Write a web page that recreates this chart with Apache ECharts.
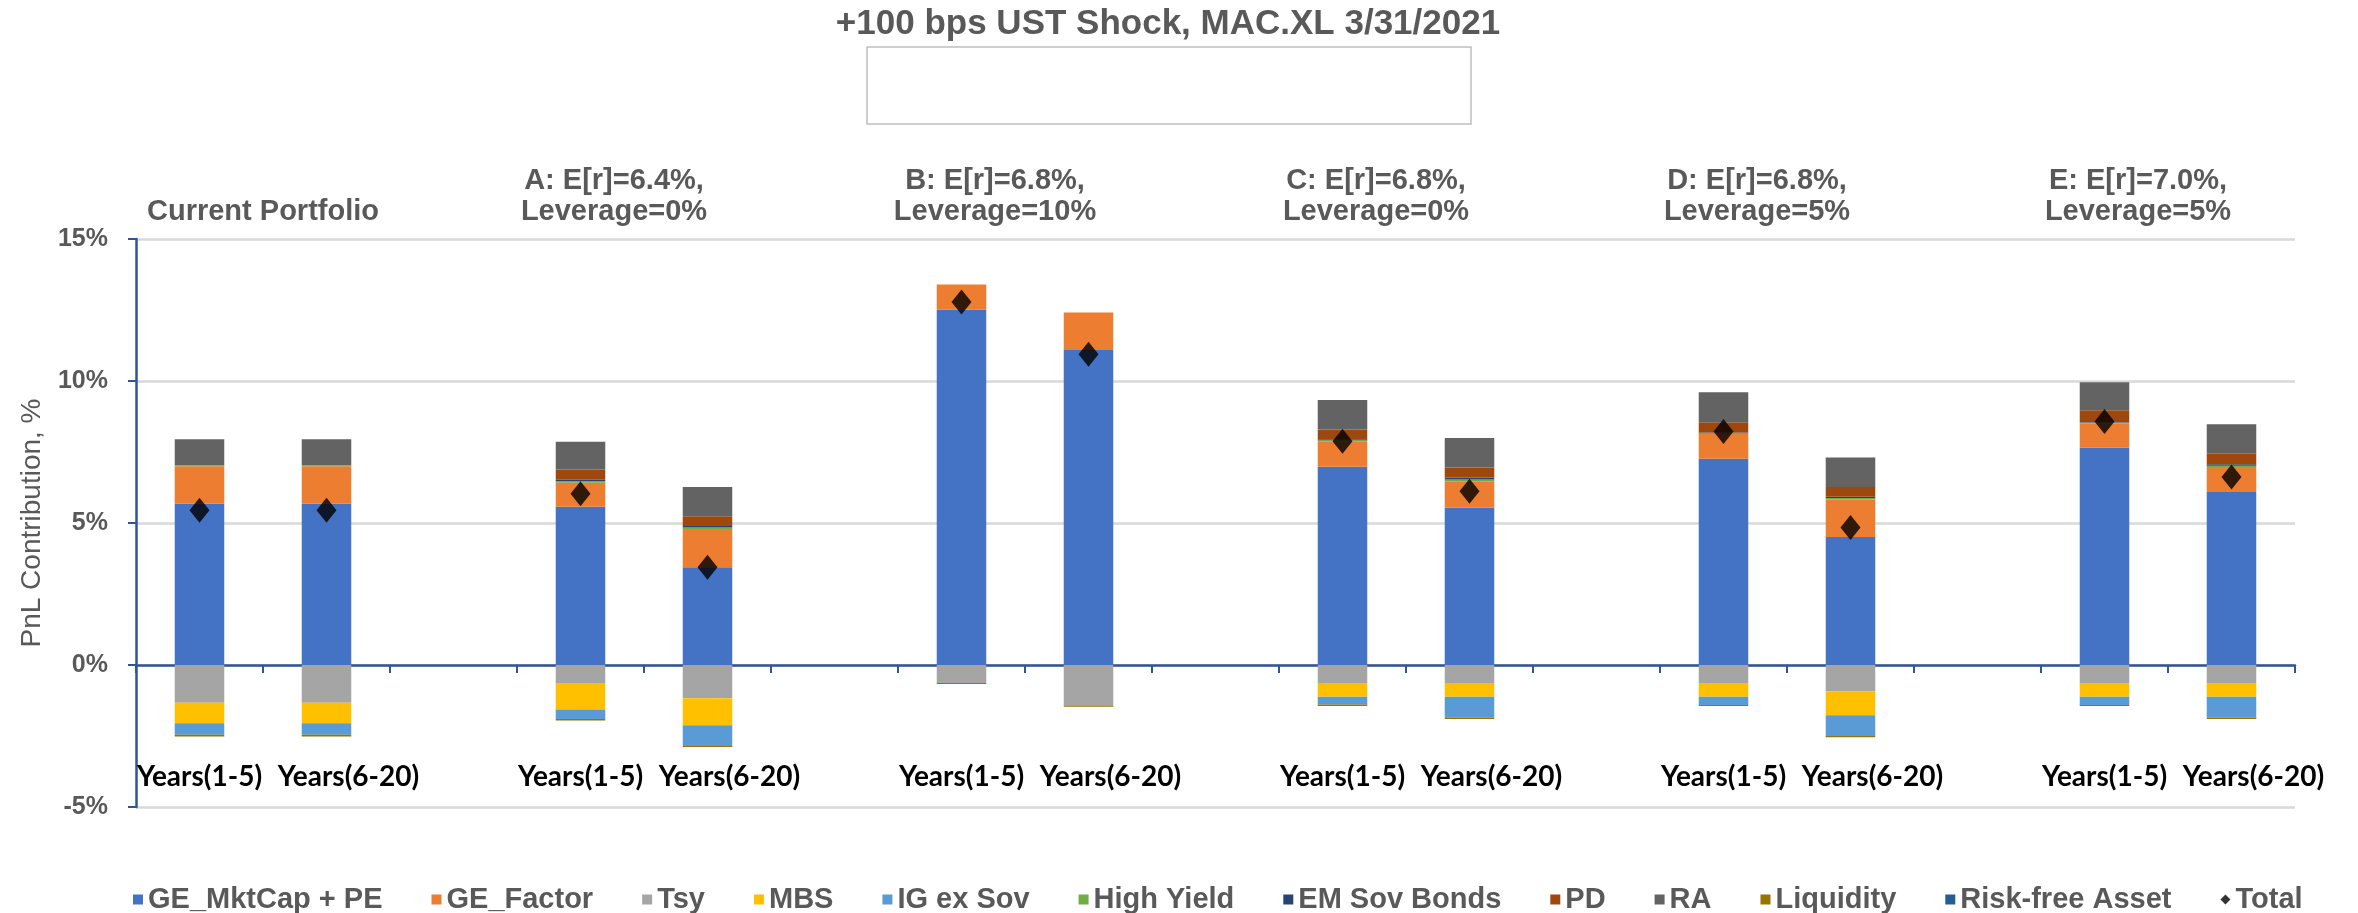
<!DOCTYPE html>
<html>
<head>
<meta charset="utf-8">
<script src="https://cdn.jsdelivr.net/npm/echarts@6/dist/echarts.min.js"></script>
<style>
html,body{margin:0;padding:0;background:#fff;}
#c{width:2358px;height:913px;}
</style>
</head>
<body>
<div id="c"></div>
<script>
// ---- data (values in %) ----
const categories = ['Years(1-5)','Years(6-20)','', 'Years(1-5)','Years(6-20)','', 'Years(1-5)','Years(6-20)','', 'Years(1-5)','Years(6-20)','', 'Years(1-5)','Years(6-20)','', 'Years(1-5)','Years(6-20)'];
const groupHeaders = ['Current Portfolio', 'A: E[r]=6.4%,\nLeverage=0%', 'B: E[r]=6.8%,\nLeverage=10%', 'C: E[r]=6.8%,\nLeverage=0%', 'D: E[r]=6.8%,\nLeverage=5%', 'E: E[r]=7.0%,\nLeverage=5%'];
const groupFirstCategory = [0, 3, 6, 9, 12, 15];

const geMktCap  = [5.68, 5.68, null, 5.57, 3.44, null, 12.52, 11.09, null, 6.98, 5.55, null, 7.26, 4.51, null, 7.66, 6.09];
const geFactor  = [1.32, 1.32, null, 0.85, 1.35, null, 0.88, 1.32, null, 0.90, 0.92, null, 0.87, 1.32, null, 0.85, 0.88];
const tsy       = [-1.33, -1.33, null, -0.63, -1.17, null, -0.63, -1.43, null, -0.63, -0.63, null, -0.63, -0.92, null, -0.63, -0.63];
const mbs       = [-0.72, -0.72, null, -0.94, -0.95, null, 0, 0, null, -0.49, -0.49, null, -0.49, -0.85, null, -0.49, -0.49];
const igExSov   = [-0.41, -0.41, null, -0.33, -0.73, null, 0, 0, null, -0.27, -0.73, null, -0.29, -0.73, null, -0.29, -0.73];
const highYield = [0.03, 0.03, null, 0.05, 0.05, null, 0, 0, null, 0.03, 0.06, null, 0.03, 0.05, null, 0.02, 0.05];
const emSov     = [0, 0, null, 0.05, 0.05, null, 0, 0, null, 0.04, 0.07, null, 0.03, 0.04, null, 0.02, 0.05];
const pd        = [0, 0, null, 0.36, 0.35, null, 0, 0, null, 0.34, 0.35, null, 0.36, 0.35, null, 0.42, 0.37];
const ra        = [0.92, 0.92, null, 0.98, 1.03, null, 0, 0, null, 1.04, 1.04, null, 1.05, 1.04, null, 0.99, 1.04];
const liquidity = [-0.06, -0.06, null, -0.05, -0.04, null, -0.04, -0.04, null, -0.05, -0.05, null, -0.03, -0.04, null, -0.03, -0.05];
const riskFree  = [0, 0, null, 0, 0, null, 0, 0, null, 0, 0, null, 0, 0, null, 0, 0];
const total     = [5.45, 5.45, null, 6.03, 3.44, null, 12.78, 10.94, null, 7.88, 6.12, null, 8.22, 4.84, null, 8.57, 6.62];
const yTicks = [-5, 0, 5, 10, 15];

const barSeriesDefs = [
  ['GE_MktCap + PE', geMktCap, '#4472C4'],
  ['GE_Factor', geFactor, '#ED7D31'],
  ['Tsy', tsy, '#A5A5A5'],
  ['MBS', mbs, '#FFC000'],
  ['IG ex Sov', igExSov, '#5B9BD5'],
  ['High Yield', highYield, '#70AD47'],
  ['EM Sov Bonds', emSov, '#264478'],
  ['PD', pd, '#9E480E'],
  ['RA', ra, '#636363'],
  ['Liquidity', liquidity, '#997300'],
  ['Risk-free Asset', riskFree, '#255E91']
];

const GRAY = '#595959';
const AXIS_BLUE = '#2F5597';
const FONT = '"Liberation Sans", Arial, sans-serif';
const LABEL_FONT = 'Lato, "Liberation Sans", sans-serif';

const series = barSeriesDefs.map(([name, data, color]) => ({
  name, type: 'bar', stack: 'pnl', data, barWidth: '39%',
  itemStyle: { color },
  emphasis: { disabled: true },
  animation: false
}));
series.push({
  name: 'Total', type: 'scatter', data: total, symbol: 'diamond', symbolSize: [20, 25],
  itemStyle: { color: '#000' }, z: 5, animation: false
});

const chart = echarts.init(document.getElementById('c'), null, { renderer: 'canvas' });
const option = {
  backgroundColor: '#fff',
  animation: false,
  title: {
    text: '+100 bps UST Shock, MAC.XL 3/31/2021',
    left: 1163, top: 2, textAlign: 'center',
    textStyle: { fontFamily: FONT, fontWeight: 'bold', fontSize: 35, color: GRAY }
  },
  grid: { left: 136, right: 63, top: 239, bottom: 106, containLabel: false, outerBoundsMode: 'none' },
  legend: {
    left: 128, top: 880,
    itemWidth: 10, itemHeight: 10, itemGap: 49,
    textStyle: { fontFamily: FONT, fontWeight: 'bold', fontSize: 29, color: GRAY },
    data: barSeriesDefs.map(d => ({ name: d[0], icon: 'rect' })).concat([{ name: 'Total', icon: 'diamond', itemStyle: { color: '#000' } }])
  },
  xAxis: [{
    type: 'category', data: categories,
    axisLine: { onZero: true, lineStyle: { color: AXIS_BLUE, width: 2.5 } },
    axisTick: { show: true, length: 8, lineStyle: { color: AXIS_BLUE, width: 2 } },
    axisLabel: { show: false },
    splitLine: { show: false }
  }, {
    type: 'category', data: categories, position: 'bottom',
    axisLine: { show: false, onZero: false },
    axisTick: { show: false },
    axisLabel: {
      interval: 0, margin: -44, color: '#000',
      fontFamily: LABEL_FONT, fontWeight: 'bold', fontSize: 28,
      formatter: v => v === 'Years(6-20)' ? '{s|' + v + '}' : v,
      rich: { s: { padding: [0, 0, 0, 44], color: '#000', fontFamily: LABEL_FONT, fontWeight: 'bold', fontSize: 28 } }
    },
    splitLine: { show: false }
  }],
  yAxis: {
    type: 'value', min: yTicks[0], max: yTicks[yTicks.length - 1], interval: 5,
    name: 'PnL Contribution, %', nameLocation: 'middle', nameGap: 90, nameRotate: 90,
    nameTextStyle: { fontFamily: FONT, fontSize: 28, color: GRAY },
    axisLine: { show: true, lineStyle: { color: AXIS_BLUE, width: 2.5 } },
    axisTick: { show: true, length: 8, lineStyle: { color: AXIS_BLUE, width: 2 } },
    axisLabel: { formatter: '{value}%', margin: 28, fontFamily: FONT, fontWeight: 'bold', fontSize: 25, color: GRAY },
    splitLine: { lineStyle: { color: '#D9D9D9', width: 2.5 } }
  },
  series
};
chart.setOption(option);

// group headers and empty box, positioned from the category axis
const graphics = [{
  type: 'rect', shape: { x: 867, y: 47, width: 604, height: 77 },
  style: { fill: '#fff', stroke: '#BFBFBF', lineWidth: 1.5 }
}];
groupHeaders.forEach((txt, g) => {
  const i = groupFirstCategory[g];
  const xa = chart.convertToPixel({ xAxisIndex: 0 }, i);
  const xb = chart.convertToPixel({ xAxisIndex: 0 }, i + 1);
  const cx = (xa + xb) / 2 + (txt.indexOf('\n') >= 0 ? -30 : 0);
  graphics.push({
    type: 'text', x: cx, y: 227,
    style: { text: txt, textAlign: 'center', textVerticalAlign: 'bottom',
      font: 'bold 29px ' + FONT, fill: GRAY, lineHeight: 31 }
  });
});
chart.setOption({ graphic: graphics });
</script>
</body>
</html>
